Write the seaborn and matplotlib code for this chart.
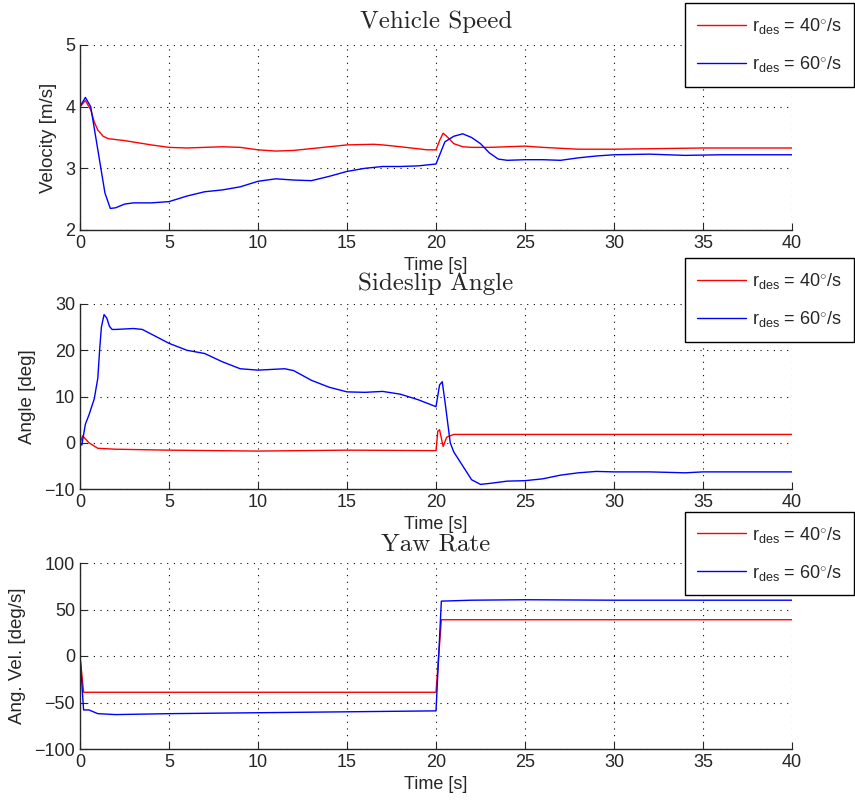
import numpy as np
import pandas as pd
import seaborn as sns
import matplotlib.pyplot as plt

# values
speed_t_40 = [0, 0.3, 0.6, 0.8, 1.0, 1.3, 1.6, 2.5, 4, 5, 6, 8, 9, 10, 11, 12, 14, 15, 16.5, 17, 18,
              19.5, 20, 20.2, 20.4, 20.6, 21, 21.5, 22, 23, 25, 26, 28, 30, 35, 40]
speed_40 = [4.0, 4.1, 3.95, 3.75, 3.62, 3.52, 3.48, 3.45, 3.38, 3.34, 3.33, 3.35, 3.34, 3.3, 3.28,
            3.29, 3.35, 3.38, 3.39, 3.38, 3.35, 3.3, 3.3, 3.45, 3.57, 3.52, 3.4, 3.35, 3.34, 3.34,
            3.36, 3.34, 3.31, 3.31, 3.33, 3.33]
speed_t_60 = [0, 0.3, 0.6, 1.0, 1.4, 1.7, 2.0, 2.5, 3, 4, 5, 6, 7, 8, 9, 10, 11, 12, 13, 14, 15, 16,
              17, 18, 19, 20, 20.5, 21, 21.5, 22, 22.5, 23, 23.5, 24, 25, 26, 27, 28, 29, 30, 32, 34,
              36, 38, 40]
speed_60 = [4.0, 4.15, 4.0, 3.3, 2.6, 2.35, 2.36, 2.42, 2.44, 2.44, 2.46, 2.55, 2.62, 2.65, 2.7, 2.79,
            2.83, 2.81, 2.8, 2.87, 2.95, 3.0, 3.03, 3.03, 3.04, 3.07, 3.43, 3.52, 3.56, 3.5, 3.4, 3.25,
            3.15, 3.13, 3.14, 3.14, 3.13, 3.17, 3.2, 3.22, 3.23, 3.21, 3.22, 3.22, 3.22]

slip_t_40 = [0, 0.15, 0.5, 1.0, 2, 5, 10, 15, 20, 20.1, 20.2, 20.4, 20.6, 21, 25, 30, 35, 40]
slip_40 = [0, 1.5, 0, -1.2, -1.4, -1.6, -1.8, -1.6, -1.7, 2.5, 2.8, -0.8, 1.2, 1.8, 1.8, 1.8, 1.8, 1.8]
slip_t_60 = [0, 0.1, 0.3, 0.5, 0.8, 1.0, 1.1, 1.2, 1.35, 1.5, 1.65, 1.8, 2.0, 3, 3.5, 4, 5, 6, 7, 8,
             9, 10, 11, 11.5, 12, 13, 14, 15, 16, 17, 18, 19, 20, 20.2, 20.35, 20.5, 20.8, 21, 21.5,
             22, 22.5, 23, 24, 25, 26, 27, 28, 29, 30, 32, 34, 35, 37, 40]
slip_60 = [0, -0.5, 4, 6, 9.5, 14, 20, 25, 27.7, 27, 25.2, 24.5, 24.5, 24.7, 24.5, 23.5, 21.5, 20,
           19.3, 17.5, 16, 15.7, 15.9, 16.0, 15.6, 13.5, 12, 11.0, 10.9, 11.1, 10.5, 9.3, 7.8, 12.5,
           13.2, 9, 0, -2, -5, -8, -9, -8.8, -8.3, -8.2, -7.8, -7, -6.5, -6.2, -6.3, -6.3, -6.5, -6.3,
           -6.3, -6.3]

yaw_t_40 = [0, 0.2, 5, 10, 15, 20, 20.3, 25, 30, 35, 40]
yaw_40 = [0, -39, -39, -39, -39, -39, 39, 39, 39, 39, 39]
yaw_t_60 = [0, 0.2, 0.5, 1, 2, 5, 10, 15, 20, 20.3, 22, 25, 30, 35, 40]
yaw_60 = [0, -58, -58, -62, -63, -62, -61, -60, -59, 59, 60, 60.5, 60, 60, 60]

labels = [r'r$_{\mathrm{des}}$ = 40$^{\circ}$/s', r'r$_{\mathrm{des}}$ = 60$^{\circ}$/s']

panels = [
    ('Vehicle Speed', 'Velocity [m/s]', (2, 5), [2, 3, 4, 5],
     speed_t_40, speed_40, speed_t_60, speed_60),
    ('Sideslip Angle', 'Angle [deg]', (-10, 30), [-10, 0, 10, 20, 30],
     slip_t_40, slip_40, slip_t_60, slip_60),
    ('Yaw Rate', 'Ang. Vel. [deg/s]', (-100, 100), [-100, -50, 0, 50, 100],
     yaw_t_40, yaw_40, yaw_t_60, yaw_60),
]

sns.set_style('ticks')
plt.rcParams['font.family'] = ['Liberation Sans', 'DejaVu Sans']
plt.rcParams['mathtext.fontset'] = 'custom'
plt.rcParams['mathtext.rm'] = 'Liberation Sans'
plt.rcParams['mathtext.it'] = 'Liberation Sans'

fig = plt.figure(figsize=(8.55, 8), dpi=100)
boxes = [[0.0936, 0.7125, 0.8327, 0.23125],
         [0.0936, 0.38875, 0.8327, 0.23125],
         [0.0936, 0.06375, 0.8327, 0.2325]]
legend_tops = [0.996, 0.677, 0.36]
title_pads = [12, 10, 9]

for box, top, tpad, (title, ylab, ylim, yticks, t1, y1, t2, y2) in zip(boxes, legend_tops, title_pads, panels):
    ax = fig.add_axes(box)
    df = pd.concat([pd.DataFrame({'t': t1, 'v': y1, 'run': labels[0]}),
                    pd.DataFrame({'t': t2, 'v': y2, 'run': labels[1]})])
    sns.lineplot(data=df, x='t', y='v', hue='run', palette=['#ff0000', '#0000ff'],
                 linewidth=1.0, ax=ax, sort=False, estimator=None)
    ax.set_xlim(0, 40)
    ax.set_ylim(*ylim)
    ax.set_xticks(range(0, 41, 5))
    ax.set_yticks(yticks)
    ax.grid(True, color='black', linestyle=(0, (1, 5)), linewidth=0.8)
    ax.tick_params(direction='in', length=5, labelsize=13, width=0.8)
    for side in ['top', 'right']:
        ax.spines[side].set_visible(False)
    for side in ['left', 'bottom']:
        ax.spines[side].set_linewidth(1.0)
    ax.set_xlabel('Time [s]', fontsize=13, labelpad=4)
    ax.set_ylabel(ylab, fontsize=13.5, labelpad=6)
    ax.set_title(title, fontfamily='cmr10', fontsize=18, pad=tpad)
    handles, labs = ax.get_legend_handles_labels()
    ax.legend(handles, labs, loc='upper right', bbox_to_anchor=(0.999, top),
              bbox_transform=fig.transFigure, fontsize=13, frameon=True, fancybox=False,
              edgecolor='black', framealpha=1, handlelength=2.7, handletextpad=0.3,
              labelspacing=1.0, borderpad=0.7, borderaxespad=0, title=None)
    ax.get_legend().get_frame().set_linewidth(1.0)

fig.savefig('out.png', dpi=100)
